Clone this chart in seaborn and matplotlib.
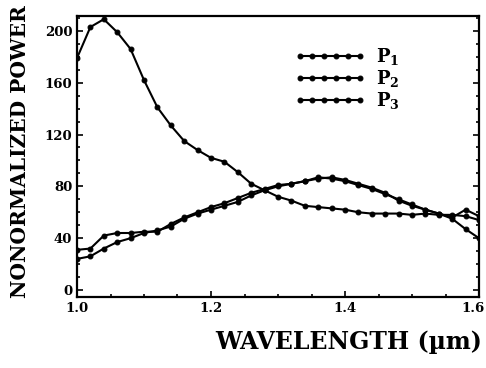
import numpy as np
import pandas as pd
import matplotlib
matplotlib.use("Agg")
import matplotlib.pyplot as plt
import matplotlib.transforms as mtransforms
import seaborn as sns
from matplotlib.ticker import MultipleLocator

wavelength = [1.00, 1.02, 1.04, 1.06, 1.08, 1.10, 1.12, 1.14, 1.16, 1.18,
              1.20, 1.22, 1.24, 1.26, 1.28, 1.30, 1.32, 1.34, 1.36, 1.38,
              1.40, 1.42, 1.44, 1.46, 1.48, 1.50, 1.52, 1.54, 1.56, 1.58, 1.60]
p1 = [179, 203, 209, 199, 186, 162, 141, 127, 115, 108,
      102, 99, 91, 82, 77, 72, 69, 65, 64, 63,
      62, 60, 59, 59, 59, 58, 59, 58, 58, 57, 54]
p2 = [31, 32, 42, 44, 44, 45, 45, 51, 56, 60,
      64, 67, 71, 75, 78, 81, 82, 84, 86, 87,
      85, 82, 79, 75, 69, 65, 62, 59, 56, 62, 57]
p3 = [24, 26, 32, 37, 40, 44, 46, 49, 55, 59,
      62, 65, 68, 73, 77, 80, 82, 84, 87, 86,
      84, 81, 78, 74, 70, 66, 62, 59, 55, 47, 40]
series_labels = ["P$_\\mathbf{1}$", "P$_\\mathbf{2}$", "P$_\\mathbf{3}$"]
x_ticks = [1.0, 1.2, 1.4, 1.6]
x_tick_labels = ["1.0", "1.2", "1.4", "1.6"]
y_ticks = [0, 40, 80, 120, 160, 200]

sns.set_style("ticks")
plt.rcParams["font.family"] = ["DejaVu Serif"]
plt.rcParams["mathtext.fontset"] = "dejavuserif"
plt.rcParams["text.color"] = "black"
plt.rcParams["xtick.color"] = "black"
plt.rcParams["ytick.color"] = "black"
plt.rcParams["axes.labelcolor"] = "black"

fig = plt.figure(figsize=(4.86, 3.68), dpi=100)
ax = fig.add_axes([77/486, 1-297/368, 402/486, 281/368])

df = pd.DataFrame({"x": wavelength * 3,
                   "y": p1 + p2 + p3,
                   "s": [series_labels[0]]*len(p1) + [series_labels[1]]*len(p2) + [series_labels[2]]*len(p3)})
for lab in series_labels:
    sns.lineplot(data=df[df.s == lab], x="x", y="y", ax=ax, color="black",
                 marker="o", markersize=3.5, linewidth=1.5, label=lab,
                 markeredgecolor="black")

ax.set_xlim(1.0, 1.6)
ax.set_ylim(-5.4, 211.5)
ax.set_xticks(x_ticks)
ax.set_xticklabels(x_tick_labels)
ax.set_yticks(y_ticks)
ax.xaxis.set_minor_locator(MultipleLocator(0.05))
ax.yaxis.set_minor_locator(MultipleLocator(10))
ax.tick_params(which="both", direction="in", top=False, right=True, labelsize=9.5,
               width=1.2, colors="black")
ax.tick_params(which="major", length=4)
ax.tick_params(which="minor", length=2.5)
for t in ax.get_xticklabels() + ax.get_yticklabels():
    t.set_fontweight("bold")
last = ax.get_xticklabels()[-1]
last.set_transform(last.get_transform() + mtransforms.ScaledTranslation(-6/100, 0, fig.dpi_scale_trans))
for sp in ax.spines.values():
    sp.set_linewidth(1.6)
    sp.set_color("black")
ax.set_xlabel("")
ax.set_ylabel("")

leg = ax.legend(loc="upper left", bbox_to_anchor=(0.52, 0.925), frameon=False,
                handlelength=3.9, numpoints=6, labelspacing=0.05,
                handletextpad=0.6, borderpad=0,
                prop={"weight": "bold", "size": 13})
for t in leg.get_texts():
    t.set_color("black")

fig.text(20/486, 1-152/368, "NONORMALIZED POWER", rotation=90, ha="center", va="center",
         fontsize=14.5, fontweight="bold", color="black")
fig.text(349/486, 1-342/368, "WAVELENGTH (µm)", ha="center", va="center", fontsize=17,
         fontweight="bold", color="black")

fig.savefig("out.png", dpi=100)
